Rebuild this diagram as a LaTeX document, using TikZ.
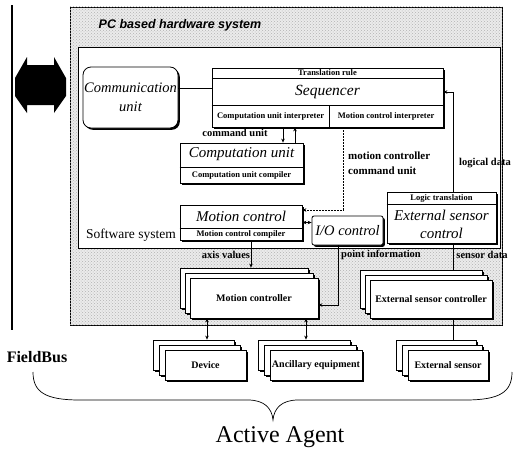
\documentclass[tikz,border=0pt]{standalone}
\usepackage{fontspec}
\setmainfont{Liberation Serif}
\newfontfamily\arialfont{Liberation Sans}
\usetikzlibrary{shadows,arrows.meta,calc,patterns}
\tikzset{
  box/.style={draw, line width=0.8pt, fill=white, inner sep=0pt,
    drop shadow={shadow xshift=1.8pt, shadow yshift=-1.8pt, fill=black, opacity=1}},
  sbox/.style={box, font=\bfseries\fontsize{10}{11}\selectfont},
  tinylbl/.style={font=\bfseries\fontsize{8.5}{9}\selectfont, inner sep=0pt},
  lbl/.style={font=\bfseries\fontsize{10.5}{12}\selectfont, inner sep=0pt},
  ital/.style={font=\itshape\fontsize{15}{17}\selectfont, inner sep=0pt},
  arr/.style={-{Stealth[length=4pt,width=3.5pt]}, line width=0.6pt},
  darr/.style={{Stealth[length=4pt,width=3.5pt]}-{Stealth[length=4pt,width=3.5pt]}, line width=0.6pt},
}
\begin{document}
\begin{tikzpicture}[x=1pt,y=-1pt]
\useasboundingbox (0,0) rectangle (516,458);

% left bar and fat arrow
\draw[line width=2.5pt] (12,5) -- (12,330);
\fill[black] (15,78) -- (27,57) -- (27,65) -- (54,65) -- (54,57) -- (66,78) -- (66,96)
  -- (54,113) -- (54,105) -- (27,105) -- (27,113) -- (15,96) -- cycle;

% PC based hardware system
\node[draw, line width=0.8pt, fill=gray!16, minimum width=432pt, minimum height=318pt, inner sep=0pt] (pc) at (286,166) {};
\path[pattern=crosshatch dots, pattern color=gray!60] (pc.north west) rectangle (pc.south east);
\node[font=\arialfont\bfseries\itshape\fontsize{12.5}{14}\selectfont, inner sep=0pt] (pctitle) at (180,25) {PC based hardware system};

% Software system
\node[draw, line width=1pt, fill=white, minimum width=422pt, minimum height=201pt, inner sep=0pt] (sw) at (289,147.5) {};
\node[font=\fontsize{13.5}{15}\selectfont, inner sep=0pt] (swlbl) at (131,235) {Software system};

% Communication unit
\node[box, rounded corners=8pt, minimum width=95pt, minimum height=61pt, align=center,
      font=\itshape\fontsize{14.5}{19}\selectfont] (comm) at (130.5,97.5) {Communication\\unit};

% Sequencer
\node[box, minimum width=231pt, minimum height=59pt] (seq) at (327.5,97.5) {};
\draw[line width=0.6pt] ($(seq.north west)+(0,11)$) -- ($(seq.north east)+(0,11)$);
\draw[line width=0.6pt] ($(seq.south west)+(0,-22)$) -- ($(seq.south east)+(0,-22)$);
\draw[line width=0.6pt] ($(seq.south west)+(118,0)$) -- ($(seq.south west)+(118,-22)$);
\node[tinylbl] (seqtr) at ($(seq.north)+(0,5.5)$) {Translation rule};
\node[font=\itshape\fontsize{15.5}{17}\selectfont, inner sep=0pt] (seqname) at ($(seq.north)+(0,24)$) {Sequencer};
\node[tinylbl] (seqci) at ($(seq.south west)+(59,-11)$) {Computation unit interpreter};
\node[tinylbl] (seqmi) at ($(seq.south west)+(174.5,-11)$) {Motion control interpreter};

% Computation unit
\node[box, minimum width=123pt, minimum height=40pt] (comp) at (241.5,163) {};
\draw[line width=0.6pt] ($(comp.south west)+(0,-16)$) -- ($(comp.south east)+(0,-16)$);
\node[ital] (compname) at ($(comp.north)+(0,12)$) {Computation unit};
\node[tinylbl] (compcc) at ($(comp.south)+(0,-8)$) {Computation unit compiler};

% Motion control
\node[box, minimum width=122pt, minimum height=35pt] (mot) at (241,222.5) {};
\draw[line width=0.6pt] ($(mot.south west)+(0,-12)$) -- ($(mot.south east)+(0,-12)$);
\node[ital] (motname) at ($(mot.north)+(0,11.5)$) {Motion control};
\node[tinylbl] (motcc) at ($(mot.south)+(0,-6)$) {Motion control compiler};

% I/O control
\node[box, rounded corners=2pt, minimum width=71pt, minimum height=29pt, font=\itshape\fontsize{14.5}{16}\selectfont] (io) at (347.5,230.5) {I/O control};

% External sensor control
\node[box, minimum width=109pt, minimum height=51pt] (esc) at (441.5,217.5) {};
\draw[line width=0.6pt] ($(esc.north west)+(0,13)$) -- ($(esc.north east)+(0,13)$);
\node[tinylbl] (esclt) at ($(esc.north)+(0,6.5)$) {Logic translation};
\node[font=\itshape\fontsize{15}{18}\selectfont, inner sep=0pt, align=center] (escname) at ($(esc.south)+(0,-19)$) {External sensor\\control};

% labels inside software system
\node[lbl] (cmdlbl) at (235,133) {command unit};
\node[lbl, anchor=west, align=left, font=\bfseries\fontsize{11}{15}\selectfont] (mcclbl) at (348,163) {motion controller\\command unit};
\node[lbl] (logiclbl) at (485,163) {logical data};

% connectors in software system
\draw[line width=0.8pt] ([yshift=9.5pt]comm.east) -- ([yshift=9.5pt]seq.west);
\draw[arr] (seq.south -| 283,0) -- (comp.north -| 283,0);
\draw[arr] (comp.north -| 295,0) -- (seq.south -| 295,0);
\draw[arr, dash pattern=on 2pt off 1pt] (seq.south -| 343,0) |- ([yshift=12.5pt]mot.east);
\draw[arr] (esc.north -| 453,0) |- ([yshift=5.5pt]seq.east);
\draw[darr] (mot.east) -- (io.west |- mot.east);

% controllers
\node[box, minimum width=128pt, minimum height=40pt] (mc3) at (244,288) {};
\node[box, minimum width=128pt, minimum height=40pt] (mc2) at (249,293) {};
\node[sbox, minimum width=128pt, minimum height=40pt] (mc) at (254,298) {Motion controller};
\node[box, minimum width=122pt, minimum height=38pt] (escc3) at (421,289) {};
\node[box, minimum width=122pt, minimum height=38pt] (escc2) at (426,294) {};
\node[sbox, minimum width=122pt, minimum height=38pt] (escc) at (431,299) {External sensor controller};

\node[lbl] (axislbl) at (226,255) {axis values};
\node[lbl] (pointlbl) at (381,255) {point information};
\node[lbl] (sensorlbl) at (482,255) {sensor data};

\draw[arr] (mot.south -| 251,0) -- (mc3.north -| 251,0);
\draw[arr] (io.south -| 338,0) |- (mc.east |- 0,305);
\draw[line width=0.6pt] (esc.south -| 453,0) -- (escc3.north -| 453,0);

% field devices
\node[box, minimum width=81pt, minimum height=30pt] (dev3) at (193.5,355) {};
\node[box, minimum width=81pt, minimum height=30pt] (dev2) at (199.5,360) {};
\node[sbox, minimum width=81pt, minimum height=30pt] (dev) at (205.5,365) {Device};
\node[box, minimum width=92pt, minimum height=30pt] (anc3) at (304,355) {};
\node[box, minimum width=92pt, minimum height=30pt] (anc2) at (310,360) {};
\node[sbox, minimum width=92pt, minimum height=30pt] (anc) at (316,365) {Ancillary equipment};
\node[box, minimum width=80pt, minimum height=30pt] (ext3) at (436,355) {};
\node[box, minimum width=80pt, minimum height=30pt] (ext2) at (442,360) {};
\node[sbox, minimum width=80pt, minimum height=30pt] (ext) at (448,365) {External sensor};

\draw[darr] (mc.south -| 207,0) -- (dev3.north -| 207,0);
\draw[darr] (mc.south -| 306,0) -- (anc3.north -| 306,0);
\draw[line width=0.6pt] (escc.south -| 453,0) -- (ext3.north -| 453,0);

\node[font=\bfseries\fontsize{16}{18}\selectfont, inner sep=0pt] (fieldbus) at (37,357) {FieldBus};

% brace
\draw[line width=0.7pt] (33,372) .. controls (33,392) and (45,400) .. (80,400) -- (248,400)
  .. controls (264,400) and (272,408) .. (273,420)
  .. controls (274,408) and (282,400) .. (298,400) -- (465,400)
  .. controls (500,400) and (512,392) .. (512,372);
\node[font=\fontsize{24}{28}\selectfont, inner sep=0pt] (agent) at (280,437) {Active Agent};
\end{tikzpicture}
\end{document}
